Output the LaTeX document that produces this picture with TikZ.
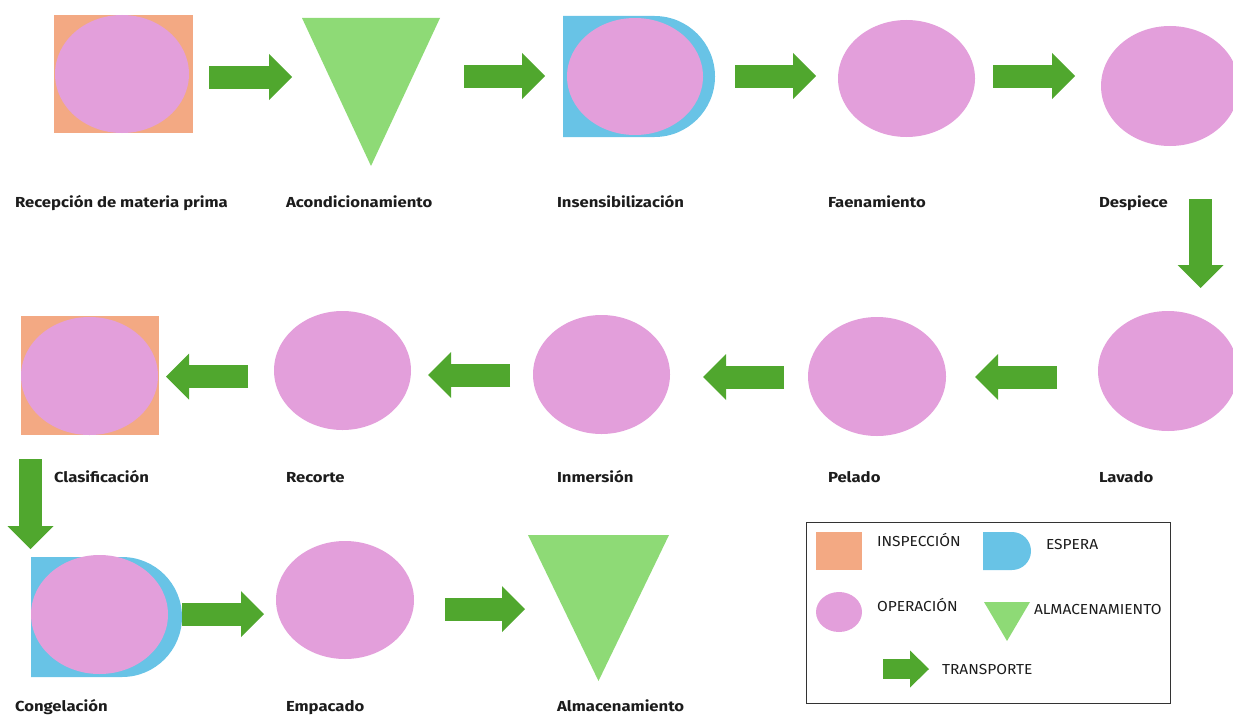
\documentclass[tikz,border=0pt]{standalone}
\usepackage{fontspec}
\setmainfont{Fira Sans}
\newfontfamily\lblfont{Fira Sans}[FakeStretch=1.15]
\newfontfamily\legfont{Fira Sans}[FakeStretch=1.07]
\usepackage{tikz}
\usetikzlibrary{arrows.meta,positioning,shapes.geometric,shapes.misc}

\definecolor{insporange}{RGB}{243,169,131}
\definecolor{oppink}{RGB}{227,159,219}
\definecolor{esperablue}{RGB}{104,195,230}
\definecolor{almgreen}{RGB}{142,218,118}
\definecolor{trgreen}{RGB}{80,167,46}
\definecolor{txtgray}{RGB}{28,28,28}

\begin{document}
\begin{tikzpicture}[x=1pt,y=-1pt,
	every node/.style={inner sep=0pt,outer sep=0pt},
	insp/.style={rectangle,fill=insporange},
	op/.style={ellipse,fill=oppink},
	esp/.style={rounded rectangle,rounded rectangle west arc=none,fill=esperablue},
	alm/.style={rectangle,path picture={\fill[almgreen] (path picture bounding box.north west) -- (path picture bounding box.north east) -- (path picture bounding box.south) -- cycle;}},
	transp/.style={draw=trgreen,line width=23pt,-{Triangle[length=23pt,width=46pt,line width=0pt]}},
	lbl/.style={anchor=base west,font=\lblfont\fontsize{14.5}{16}\selectfont\bfseries,text=txtgray},
	leg/.style={anchor=base west,font=\legfont\fontsize{14.5}{16}\selectfont,text=txtgray}]
	\useasboundingbox (0,0) rectangle (1233,717);
	\clip (0,0) rectangle (1233,717);

	% fila 1
	\node (recsq) at (123.5,74) [insp,minimum width=139,minimum height=118] {};
	\node (rec) at (122,74) [op,minimum width=134,minimum height=118] {};
	\node (acond) at (371,92) [alm,minimum width=138,minimum height=148] {};
	\node (insd) at (639,76.5) [esp,minimum width=152,minimum height=121] {};
	\node (ins) at (635,76.5) [op,minimum width=136,minimum height=117] {};
	\node (fae) at (906.5,78.5) [op,minimum width=137,minimum height=117] {};
	\node (desp) at (1170,86) [op,minimum width=138,minimum height=120] {};

	% fila 2
	\node (lav) at (1168,371) [op,minimum width=140,minimum height=120] {};
	\node (pel) at (877,376.5) [op,minimum width=138,minimum height=119] {};
	\node (inm) at (601.5,374.5) [op,minimum width=137,minimum height=119] {};
	\node (rcrt) at (342.5,370.5) [op,minimum width=137,minimum height=119] {};
	\node (classq) at (90,375.5) [insp,minimum width=138,minimum height=119] {};
	\node (clas) at (89.5,376) [op,minimum width=137,minimum height=118] {};

	% fila 3
	\node (congd) at (106.5,617) [esp,minimum width=151,minimum height=120] {};
	\node (cong) at (99.5,614.5) [op,minimum width=137,minimum height=119] {};
	\node (emp) at (345,600) [op,minimum width=138,minimum height=118] {};
	\node (alm) at (598.5,608) [alm,minimum width=141,minimum height=146] {};

	% transportes
	\draw[transp] ([shift={(16,3)}]recsq.east) -- ([shift={(-10,-15)}]acond.west);
	\draw[transp] ([shift={(24,-16)}]acond.east) -- ([shift={(-18,-0.5)}]insd.west);
	\draw[transp] ([shift={(20,-0.5)}]insd.east) -- ([shift={(-22,-2.5)}]fae.west);
	\draw[transp] ([shift={(18,-2.5)}]fae.east) -- ([shift={(-26,-10)}]desp.west);
	\draw[transp] ([shift={(30.5,53)}]desp.south) -- ([shift={(32.5,-23)}]lav.north);
	\draw[transp] ([shift={(-41,6)}]lav.west) -- ([shift={(29,0.5)}]pel.east);
	\draw[transp] ([shift={(-24,0.5)}]pel.west) -- ([shift={(33,2.5)}]inm.east);
	\draw[transp] ([shift={(-23,0.5)}]inm.west) -- ([shift={(17,4.5)}]rcrt.east);
	\draw[transp] ([shift={(-26,6)}]rcrt.west) -- ([shift={(7,1)}]classq.east);
	\draw[transp] ([shift={(-59.5,24)}]classq.south) -- ([shift={(-76,-8)}]congd.north);
	\draw[transp] ([shift={(0,-3)}]congd.east) -- ([shift={(-12,14)}]emp.west);
	\draw[transp] ([shift={(31,9)}]emp.east) -- ([shift={(-3,1)}]alm.west);

	% etiquetas
	\node (lrec) at (15,207) [lbl] {Recepción de materia prima};
	\node (lacond) at (286,207) [lbl] {Acondicionamiento};
	\node (lins) at (557,207) [lbl] {Insensibilización};
	\node (lfae) at (828,207) [lbl] {Faenamiento};
	\node (ldesp) at (1099,207) [lbl] {Despiece};
	\node (lclas) at (54,482) [lbl] {Clasificación};
	\node (lrcrt) at (286,482) [lbl] {Recorte};
	\node (linm) at (557,482) [lbl] {Inmersión};
	\node (lpel) at (828,482) [lbl] {Pelado};
	\node (llav) at (1099,482) [lbl] {Lavado};
	\node (lcong) at (15,711) [lbl] {Congelación};
	\node (lemp) at (286,711) [lbl] {Empacado};
	\node (lalm) at (557,711) [lbl] {Almacenamiento};

	% leyenda
	\node (leyenda) at (988,612.5) [draw=black!80,line width=1pt,minimum width=364,minimum height=181] {};
	\node (kinsp) at (839,551) [insp,minimum width=46,minimum height=38] {};
	\node (kesp) at (1007,551) [esp,minimum width=48,minimum height=38] {};
	\node (kop) at (839,612) [op,minimum width=46,minimum height=40] {};
	\node (kalm) at (1007,621.5) [alm,minimum width=46,minimum height=39] {};
	\coordinate (ktra1) at (883,669);
	\coordinate (ktra2) at (929,669);
	\draw[transp,line width=20pt,-{Triangle[length=19pt,width=37pt,line width=0pt]}] (ktra1) -- (ktra2);
	\node (tinsp) at (877,546) [leg] {INSPECCIÓN};
	\node (tesp) at (1046,549) [leg] {ESPERA};
	\node (top) at (877,611) [leg] {OPERACIÓN};
	\node (talm) at (1034,614) [leg] {ALMACENAMIENTO};
	\node (ttra) at (942,674) [leg] {TRANSPORTE};
\end{tikzpicture}
\end{document}
